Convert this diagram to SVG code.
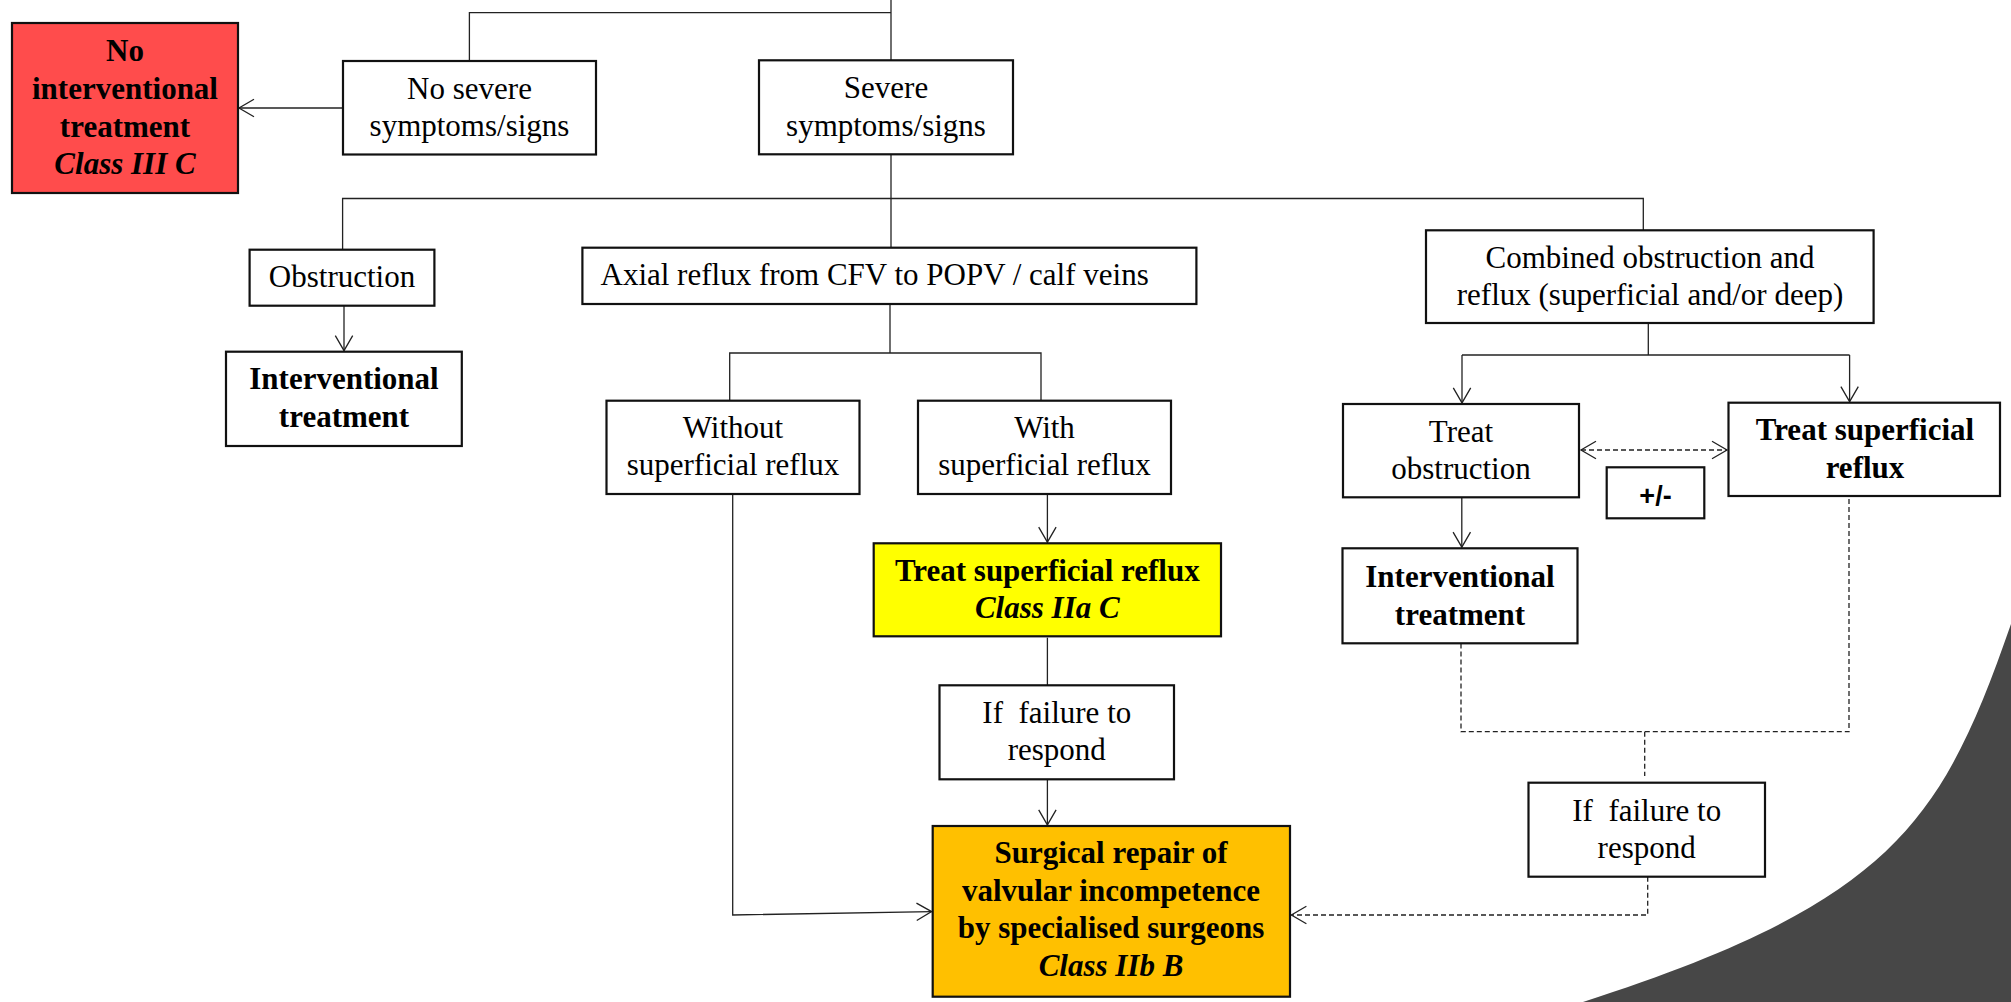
<svg xmlns="http://www.w3.org/2000/svg" width="2011" height="1002" viewBox="0 0 2011 1002">
  <style>
    .box { fill: #ffffff; stroke: #111111; stroke-width: 2.2; }
    .red { fill: #ff4c4c; }
    .yel { fill: #ffff00; }
    .org { fill: #ffc000; }
    .t { font-family: "Liberation Serif", "Times New Roman", serif; font-size: 31px; text-anchor: middle; fill: #000000; }
    .b { font-weight: bold; }
    .bi { font-weight: bold; font-style: italic; }
    .pm { font-family: "Liberation Sans", Arial, sans-serif; font-size: 27px; font-weight: bold; text-anchor: middle; fill: #000000; }
    .c { fill: none; stroke: #222222; stroke-width: 1.3; }
    .d { stroke-dasharray: 5 3; }
  </style>
  <defs>
    <marker id="arrow" markerUnits="userSpaceOnUse" markerWidth="20" markerHeight="22" viewBox="-17 -11 19 22" refX="0" refY="0" orient="auto-start-reverse">
      <path d="M -15 -8.7 L 0 0 L -15 8.7" fill="none" stroke="#222222" stroke-width="1.3"/>
    </marker>
  </defs>

  <!-- decorative corner shape -->
  <path d="M 2011 624 C 1942 822 1893 902 1583 1002 L 2011 1002 Z" fill="#474747"/>

  <!-- connectors -->
  <g id="connectors">
    <path class="c" d="M 891 0 V 60"/>
    <path class="c" d="M 891 12.7 H 469.4 V 61"/>
    <path class="c" d="M 343 108 H 239" marker-end="url(#arrow)"/>
    <path class="c" d="M 891 155 V 248"/>
    <path class="c" d="M 342.6 249.7 V 198.5 H 1643.3 V 230.3"/>
    <path class="c" d="M 344 305.7 V 350.6" marker-end="url(#arrow)"/>
    <path class="c" d="M 890 304 V 353"/>
    <path class="c" d="M 729.7 400.7 V 353 H 1041 V 400.7"/>
    <path class="c" d="M 732.7 494 V 915 L 931.6 911.6" marker-end="url(#arrow)"/>
    <path class="c" d="M 1047.4 494 V 542.2" marker-end="url(#arrow)"/>
    <path class="c" d="M 1047.4 637.7 V 685.3"/>
    <path class="c" d="M 1047.4 779.3 V 824.9" marker-end="url(#arrow)"/>
    <path class="c" d="M 1648.3 323 V 355"/>
    <path class="c" d="M 1462 355 H 1849.6"/>
    <path class="c" d="M 1462 355 V 402.9" marker-end="url(#arrow)"/>
    <path class="c" d="M 1849.6 355 V 401.6" marker-end="url(#arrow)"/>
    <path class="c d" d="M 1581 450 H 1727" marker-start="url(#arrow)" marker-end="url(#arrow)"/>
    <path class="c" d="M 1461.8 497.3 V 547.2" marker-end="url(#arrow)"/>
    <path class="c d" d="M 1461 643.5 V 731.7 H 1849 V 496"/>
    <path class="c d" d="M 1644.7 731.7 V 776"/>
    <path class="c d" d="M 1647.7 876.7 V 915 H 1291.4" marker-end="url(#arrow)"/>
  </g>

  <g id="no-intervention">
    <rect class="box red" x="12" y="23" width="226" height="170"/>
    <text class="t b" x="125" y="61">No</text>
    <text class="t b" x="125" y="99">interventional</text>
    <text class="t b" x="125" y="137">treatment</text>
    <text class="t bi" x="125" y="174">Class III C</text>
  </g>

  <g id="no-severe">
    <rect class="box" x="343" y="61" width="253" height="93.5"/>
    <text class="t" x="469.5" y="99">No severe</text>
    <text class="t" x="469.5" y="136">symptoms/signs</text>
  </g>

  <g id="severe">
    <rect class="box" x="759" y="60.3" width="254" height="94"/>
    <text class="t" x="886" y="98.3">Severe</text>
    <text class="t" x="886" y="136">symptoms/signs</text>
  </g>

  <g id="obstruction">
    <rect class="box" x="249.6" y="249.7" width="184.8" height="56"/>
    <text class="t" x="342" y="287.3">Obstruction</text>
  </g>

  <g id="interventional-left">
    <rect class="box" x="226" y="351.7" width="235.8" height="94.3"/>
    <text class="t b" x="344" y="389.3">Interventional</text>
    <text class="t b" x="344" y="426.7">treatment</text>
  </g>

  <g id="axial-reflux">
    <rect class="box" x="582.4" y="247.7" width="614" height="56.3"/>
    <text class="t" x="600.5" y="285" style="text-anchor:start">Axial reflux from CFV to POPV / calf veins</text>
  </g>

  <g id="without-superficial">
    <rect class="box" x="606.5" y="400.7" width="253" height="93.3"/>
    <text class="t" x="733" y="438.3">Without</text>
    <text class="t" x="733" y="475">superficial reflux</text>
  </g>

  <g id="with-superficial">
    <rect class="box" x="918" y="400.7" width="253" height="93.3"/>
    <text class="t" x="1044.5" y="438.3">With</text>
    <text class="t" x="1044.5" y="475">superficial reflux</text>
  </g>

  <g id="treat-superficial-mid">
    <rect class="box yel" x="873.7" y="543.3" width="347.3" height="93"/>
    <text class="t b" x="1047.3" y="581">Treat superficial reflux</text>
    <text class="t bi" x="1047.3" y="618.3">Class IIa C</text>
  </g>

  <g id="failure-mid">
    <rect class="box" x="939.5" y="685.3" width="234.5" height="94"/>
    <text class="t" x="1056.8" y="722.7">If&#160; failure to</text>
    <text class="t" x="1056.8" y="760">respond</text>
  </g>

  <g id="surgical-repair">
    <rect class="box org" x="932.7" y="826" width="357.3" height="170.7"/>
    <text class="t b" x="1111" y="863.3">Surgical repair of</text>
    <text class="t b" x="1111" y="901">valvular incompetence</text>
    <text class="t b" x="1111" y="938.3">by specialised surgeons</text>
    <text class="t bi" x="1111" y="976">Class IIb B</text>
  </g>

  <g id="combined">
    <rect class="box" x="1426" y="230.3" width="447.6" height="92.7"/>
    <text class="t" x="1650" y="268.3">Combined obstruction and</text>
    <text class="t" x="1650" y="305">reflux (superficial and/or deep)</text>
  </g>

  <g id="treat-obstruction">
    <rect class="box" x="1343" y="404" width="236" height="93.3"/>
    <text class="t" x="1461" y="441.7">Treat</text>
    <text class="t" x="1461" y="479">obstruction</text>
  </g>

  <g id="treat-superficial-right">
    <rect class="box" x="1728.5" y="402.7" width="271.5" height="93.3"/>
    <text class="t b" x="1865" y="440">Treat superficial</text>
    <text class="t b" x="1865" y="477.7">reflux</text>
  </g>

  <g id="plus-minus">
    <rect class="box" x="1606.7" y="467.3" width="97.6" height="51"/>
    <text class="pm" x="1655.5" y="505">+/-</text>
  </g>

  <g id="interventional-right">
    <rect class="box" x="1342.5" y="548.3" width="235" height="95"/>
    <text class="t b" x="1460" y="587.3">Interventional</text>
    <text class="t b" x="1460" y="625">treatment</text>
  </g>

  <g id="failure-right">
    <rect class="box" x="1528.5" y="782.7" width="236.5" height="94"/>
    <text class="t" x="1646.7" y="821">If&#160; failure to</text>
    <text class="t" x="1646.7" y="858.3">respond</text>
  </g>
</svg>
